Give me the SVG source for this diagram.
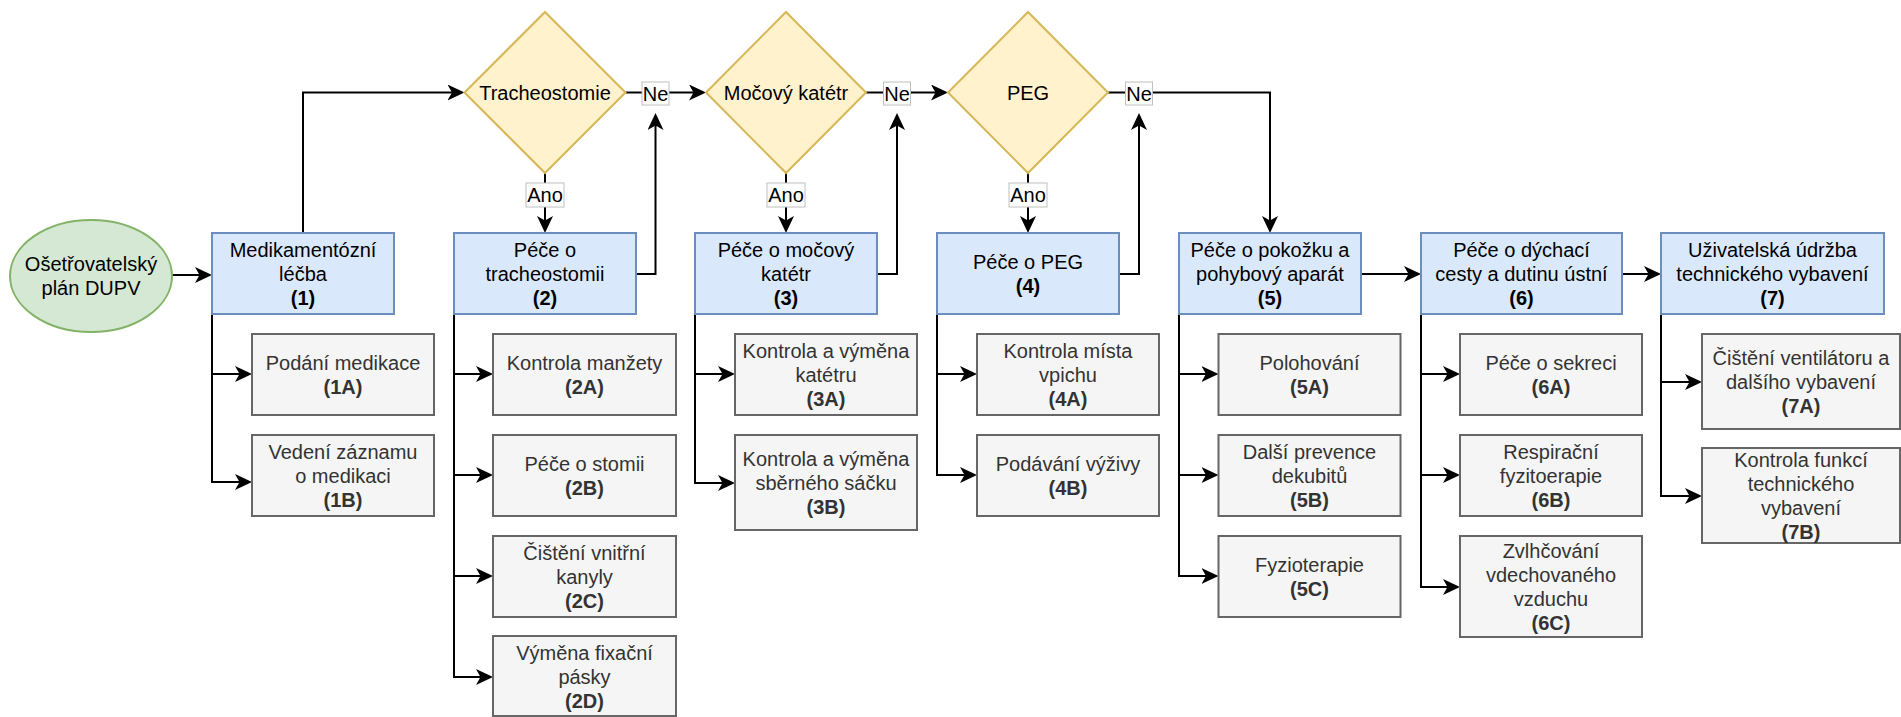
<svg xmlns="http://www.w3.org/2000/svg" width="1901" height="717" viewBox="0 0 1901 717">
  <style>
    text { font-family: "Liberation Sans", Arial, Helvetica, sans-serif; font-size: 20px; text-anchor: middle; }
    .main { fill: #dae8fc; stroke: #6c8ebf; stroke-width: 2; }
    .sub { fill: #f5f5f5; stroke: #666666; stroke-width: 2; }
    .dia { fill: #fff2cc; stroke: #d6b656; stroke-width: 2; }
    .start { fill: #d5e8d4; stroke: #82b366; stroke-width: 2; }
    .subtxt { fill: #333333; }
    .b { font-weight: bold; }
    .edge { fill: none; stroke: #000000; stroke-width: 2; marker-end: url(#arrow); }
    .lbl { fill: #ffffff; stroke: #c0c0c0; stroke-width: 1; }
  </style>
  <defs>
    <marker id="arrow" markerUnits="userSpaceOnUse" viewBox="0 0 17 16" refX="13" refY="8" markerWidth="17" markerHeight="16" orient="auto">
      <path d="M0,0 L17,8 L0,16 L4.5,8 Z" fill="#000000"/>
    </marker>
  </defs>

  <rect width="1901" height="717" fill="#ffffff"/>

  <!-- connectors -->
  <g id="connectors">
    <path class="edge" d="M172,275 H208"/>
    <path class="edge" d="M303,233 V92.5 H460.5"/>
    <path class="edge" d="M545,173 V229"/>
    <path class="edge" d="M625.5,92.5 H702"/>
    <path class="edge" d="M636,274 H655.5 V117"/>
    <path class="edge" d="M786,173 V229"/>
    <path class="edge" d="M866,92.5 H944"/>
    <path class="edge" d="M877,274 H897 V117"/>
    <path class="edge" d="M1028,173 V229"/>
    <path class="edge" d="M1108,92.5 H1270 V229"/>
    <path class="edge" d="M1119,274 H1139 V117"/>
    <path class="edge" d="M1361,274 H1417"/>
    <path class="edge" d="M1622,274 H1657"/>

    <!-- branches to sub-tasks -->
    <path class="edge" d="M212,314 V374 H248"/>
    <path class="edge" d="M212,314 V482 H248"/>
    <path class="edge" d="M454,314 V374 H489"/>
    <path class="edge" d="M454,314 V475 H489"/>
    <path class="edge" d="M454,314 V576 H489"/>
    <path class="edge" d="M454,314 V677 H489"/>
    <path class="edge" d="M695,314 V374 H731"/>
    <path class="edge" d="M695,314 V483 H731"/>
    <path class="edge" d="M937,314 V374 H973"/>
    <path class="edge" d="M937,314 V475 H973"/>
    <path class="edge" d="M1179,314 V374 H1214.5"/>
    <path class="edge" d="M1179,314 V475 H1214.5"/>
    <path class="edge" d="M1179,314 V576 H1214.5"/>
    <path class="edge" d="M1421,314 V374 H1456"/>
    <path class="edge" d="M1421,314 V475 H1456"/>
    <path class="edge" d="M1421,314 V587 H1456"/>
    <path class="edge" d="M1661,314 V382 H1698"/>
    <path class="edge" d="M1661,314 V496 H1698"/>

    <!-- edge labels -->
    <rect class="lbl" x="526" y="183" width="38" height="24"/>
    <text x="545" y="202">Ano</text>
    <rect class="lbl" x="767" y="183" width="38" height="24"/>
    <text x="786" y="202">Ano</text>
    <rect class="lbl" x="1009" y="183" width="38" height="24"/>
    <text x="1028" y="202">Ano</text>
    <rect class="lbl" x="642" y="82" width="27" height="23"/>
    <text x="655.5" y="100.5">Ne</text>
    <rect class="lbl" x="883.5" y="82" width="27" height="23"/>
    <text x="897" y="100.5">Ne</text>
    <rect class="lbl" x="1125.5" y="82" width="27" height="23"/>
    <text x="1139" y="100.5">Ne</text>
  </g>

  <!-- start -->
  <g id="start">
    <ellipse class="start" cx="91" cy="276" rx="81" ry="56"/>
    <text><tspan x="91" y="271">Ošetřovatelský</tspan><tspan x="91" y="295">plán DUPV</tspan></text>
  </g>

  <!-- decisions -->
  <g id="d-tracheostomie">
    <polygon class="dia" points="545,12 625.5,92.5 545,173 464.5,92.5"/>
    <text x="545" y="99.5">Tracheostomie</text>
  </g>
  <g id="d-katetr">
    <polygon class="dia" points="786,12 866,92.5 786,173 706,92.5"/>
    <text x="786" y="99.5">Močový katétr</text>
  </g>
  <g id="d-peg">
    <polygon class="dia" points="1028,12 1108,92.5 1028,173 948,92.5"/>
    <text x="1028" y="99.5">PEG</text>
  </g>

  <!-- main care areas -->
  <g id="n1">
    <rect class="main" x="212" y="233" width="182" height="81"/>
    <text><tspan x="303" y="256.5">Medikamentózní</tspan><tspan x="303" y="280.5">léčba</tspan><tspan class="b" x="303" y="304.5">(1)</tspan></text>
  </g>
  <g id="n2">
    <rect class="main" x="454" y="233" width="182" height="81"/>
    <text><tspan x="545" y="256.5">Péče o</tspan><tspan x="545" y="280.5">tracheostomii</tspan><tspan class="b" x="545" y="304.5">(2)</tspan></text>
  </g>
  <g id="n3">
    <rect class="main" x="695" y="233" width="182" height="81"/>
    <text><tspan x="786" y="256.5">Péče o močový</tspan><tspan x="786" y="280.5">katétr</tspan><tspan class="b" x="786" y="304.5">(3)</tspan></text>
  </g>
  <g id="n4">
    <rect class="main" x="937" y="233" width="182" height="81"/>
    <text><tspan x="1028" y="268.5">Péče o PEG</tspan><tspan class="b" x="1028" y="292.5">(4)</tspan></text>
  </g>
  <g id="n5">
    <rect class="main" x="1179" y="233" width="182" height="81"/>
    <text><tspan x="1270" y="256.5">Péče o pokožku a</tspan><tspan x="1270" y="280.5">pohybový aparát</tspan><tspan class="b" x="1270" y="304.5">(5)</tspan></text>
  </g>
  <g id="n6">
    <rect class="main" x="1421" y="233" width="201" height="81"/>
    <text><tspan x="1521.5" y="256.5">Péče o dýchací</tspan><tspan x="1521.5" y="280.5">cesty a dutinu ústní</tspan><tspan class="b" x="1521.5" y="304.5">(6)</tspan></text>
  </g>
  <g id="n7">
    <rect class="main" x="1661" y="233" width="223" height="81"/>
    <text><tspan x="1772.5" y="256.5">Uživatelská údržba</tspan><tspan x="1772.5" y="280.5">technického vybavení</tspan><tspan class="b" x="1772.5" y="304.5">(7)</tspan></text>
  </g>

  <!-- sub-tasks -->
  <g id="n1a">
    <rect class="sub" x="252" y="334" width="182" height="81"/>
    <text class="subtxt"><tspan x="343" y="369.5">Podání medikace</tspan><tspan class="b" x="343" y="393.5">(1A)</tspan></text>
  </g>
  <g id="n1b">
    <rect class="sub" x="252" y="435" width="182" height="81"/>
    <text class="subtxt"><tspan x="343" y="458.5">Vedení záznamu</tspan><tspan x="343" y="482.5">o medikaci</tspan><tspan class="b" x="343" y="506.5">(1B)</tspan></text>
  </g>
  <g id="n2a">
    <rect class="sub" x="493" y="334" width="183" height="81"/>
    <text class="subtxt"><tspan x="584.5" y="369.5">Kontrola manžety</tspan><tspan class="b" x="584.5" y="393.5">(2A)</tspan></text>
  </g>
  <g id="n2b">
    <rect class="sub" x="493" y="435" width="183" height="81"/>
    <text class="subtxt"><tspan x="584.5" y="470.5">Péče o stomii</tspan><tspan class="b" x="584.5" y="494.5">(2B)</tspan></text>
  </g>
  <g id="n2c">
    <rect class="sub" x="493" y="536" width="183" height="81"/>
    <text class="subtxt"><tspan x="584.5" y="559.5">Čištění vnitřní</tspan><tspan x="584.5" y="583.5">kanyly</tspan><tspan class="b" x="584.5" y="607.5">(2C)</tspan></text>
  </g>
  <g id="n2d">
    <rect class="sub" x="493" y="636" width="183" height="80"/>
    <text class="subtxt"><tspan x="584.5" y="659.5">Výměna fixační</tspan><tspan x="584.5" y="683.5">pásky</tspan><tspan class="b" x="584.5" y="707.5">(2D)</tspan></text>
  </g>
  <g id="n3a">
    <rect class="sub" x="735" y="334" width="182" height="81"/>
    <text class="subtxt"><tspan x="826" y="357.5">Kontrola a výměna</tspan><tspan x="826" y="381.5">katétru</tspan><tspan class="b" x="826" y="405.5">(3A)</tspan></text>
  </g>
  <g id="n3b">
    <rect class="sub" x="735" y="435" width="182" height="95"/>
    <text class="subtxt"><tspan x="826" y="465.5">Kontrola a výměna</tspan><tspan x="826" y="489.5">sběrného sáčku</tspan><tspan class="b" x="826" y="513.5">(3B)</tspan></text>
  </g>
  <g id="n4a">
    <rect class="sub" x="977" y="334" width="182" height="81"/>
    <text class="subtxt"><tspan x="1068" y="357.5">Kontrola místa</tspan><tspan x="1068" y="381.5">vpichu</tspan><tspan class="b" x="1068" y="405.5">(4A)</tspan></text>
  </g>
  <g id="n4b">
    <rect class="sub" x="977" y="435" width="182" height="81"/>
    <text class="subtxt"><tspan x="1068" y="470.5">Podávání výživy</tspan><tspan class="b" x="1068" y="494.5">(4B)</tspan></text>
  </g>
  <g id="n5a">
    <rect class="sub" x="1218.5" y="334" width="182" height="81"/>
    <text class="subtxt"><tspan x="1309.5" y="369.5">Polohování</tspan><tspan class="b" x="1309.5" y="393.5">(5A)</tspan></text>
  </g>
  <g id="n5b">
    <rect class="sub" x="1218.5" y="435" width="182" height="81"/>
    <text class="subtxt"><tspan x="1309.5" y="458.5">Další prevence</tspan><tspan x="1309.5" y="482.5">dekubitů</tspan><tspan class="b" x="1309.5" y="506.5">(5B)</tspan></text>
  </g>
  <g id="n5c">
    <rect class="sub" x="1218.5" y="536" width="182" height="81"/>
    <text class="subtxt"><tspan x="1309.5" y="571.5">Fyzioterapie</tspan><tspan class="b" x="1309.5" y="595.5">(5C)</tspan></text>
  </g>
  <g id="n6a">
    <rect class="sub" x="1460" y="334" width="182" height="81"/>
    <text class="subtxt"><tspan x="1551" y="369.5">Péče o sekreci</tspan><tspan class="b" x="1551" y="393.5">(6A)</tspan></text>
  </g>
  <g id="n6b">
    <rect class="sub" x="1460" y="435" width="182" height="81"/>
    <text class="subtxt"><tspan x="1551" y="458.5">Respirační</tspan><tspan x="1551" y="482.5">fyzitoerapie</tspan><tspan class="b" x="1551" y="506.5">(6B)</tspan></text>
  </g>
  <g id="n6c">
    <rect class="sub" x="1460" y="536" width="182" height="101"/>
    <text class="subtxt"><tspan x="1551" y="557.5">Zvlhčování</tspan><tspan x="1551" y="581.5">vdechovaného</tspan><tspan x="1551" y="605.5">vzduchu</tspan><tspan class="b" x="1551" y="629.5">(6C)</tspan></text>
  </g>
  <g id="n7a">
    <rect class="sub" x="1702" y="334" width="198" height="95"/>
    <text class="subtxt"><tspan x="1801" y="364.5">Čištění ventilátoru a</tspan><tspan x="1801" y="388.5">dalšího vybavení</tspan><tspan class="b" x="1801" y="412.5">(7A)</tspan></text>
  </g>
  <g id="n7b">
    <rect class="sub" x="1702" y="448" width="198" height="95"/>
    <text class="subtxt"><tspan x="1801" y="466.5">Kontrola funkcí</tspan><tspan x="1801" y="490.5">technického</tspan><tspan x="1801" y="514.5">vybavení</tspan><tspan class="b" x="1801" y="538.5">(7B)</tspan></text>
  </g>
</svg>
